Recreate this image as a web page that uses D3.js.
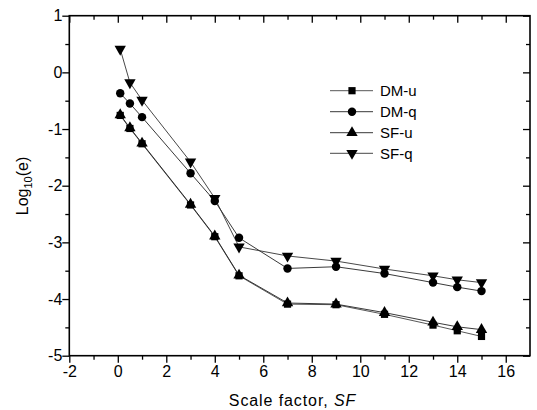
<!DOCTYPE html>
<html><head><meta charset="utf-8">
<script src="https://cdn.jsdelivr.net/npm/d3@7"></script>
<style>body{margin:0;background:#fff}text{font-family:"Liberation Sans",Arial,sans-serif}</style>
</head><body><svg id="c" width="537" height="410"></svg>
<script>
const sf = [0.1, 0.5, 1, 3, 4, 5, 7, 9, 11, 13, 14, 15];
const seriesNames = ["DM-u", "DM-q", "SF-u", "SF-q"];
const dmU = [-0.76, -0.99, -1.26, -2.34, -2.90, -3.59, -4.09, -4.10, -4.27, -4.46, -4.56, -4.66];
const dmQ = [-0.37, -0.55, -0.79, -1.78, -2.27, -2.92, -3.46, -3.43, -3.55, -3.71, -3.79, -3.86];
const sfU = [-0.75, -0.98, -1.25, -2.33, -2.89, -3.58, -4.07, -4.09, -4.24, -4.41, -4.49, -4.54];
const sfQ = [0.41, -0.18, -0.49, -1.58, -2.22, -3.08, -3.24, -3.33, -3.47, -3.59, -3.66, -3.71];
const xTicks = [-2, 0, 2, 4, 6, 8, 10, 12, 14, 16];
const yTicks = [-5, -4, -3, -2, -1, 0, 1];

const svg = d3.select("#c");
const L = 69.3, R = 530, T = 15.7, B = 355.7;
const x = d3.scaleLinear().domain([-2, 17]).range([L, R]);
const y = d3.scaleLinear().domain([-5, 1]).range([B, T]);

const data = [dmU, dmQ, sfU, sfQ];
const symbols = [d3.symbolSquare, d3.symbolCircle, d3.symbolTriangle, d3.symbolTriangle];
const symSize = [52, 56, 56, 56];
const rot = [0, 0, 0, 180];
const lineColor = ["#444", "#222", "#222", "#333"];

const fmt = d => String(d);
const fs = 16;
const gB = svg.append("g").attr("transform", `translate(0,${B})`)
  .call(d3.axisBottom(x).tickValues(xTicks).tickSize(7).tickFormat(fmt));
const gBm = svg.append("g").attr("transform", `translate(0,${B})`)
  .call(d3.axisBottom(x).tickValues(d3.range(-1, 17, 2)).tickSize(4).tickFormat(""));
const gT = svg.append("g").attr("transform", `translate(0,${T})`)
  .call(d3.axisBottom(x).tickValues(xTicks).tickSize(7).tickFormat(""));
const gTm = svg.append("g").attr("transform", `translate(0,${T})`)
  .call(d3.axisBottom(x).tickValues(d3.range(-1, 17, 2)).tickSize(4).tickFormat(""));
const gL = svg.append("g").attr("transform", `translate(${L},0)`)
  .call(d3.axisLeft(y).tickValues(yTicks).tickSize(7).tickFormat(fmt));
const gLm = svg.append("g").attr("transform", `translate(${L},0)`)
  .call(d3.axisLeft(y).tickValues(d3.range(-4.5, 1, 1)).tickSize(4).tickFormat(""));
const gR = svg.append("g").attr("transform", `translate(${R},0)`)
  .call(d3.axisLeft(y).tickValues(yTicks).tickSize(7).tickFormat(""));
const gRm = svg.append("g").attr("transform", `translate(${R},0)`)
  .call(d3.axisLeft(y).tickValues(d3.range(-4.5, 1, 1)).tickSize(4).tickFormat(""));
[gB, gBm, gT, gTm, gL, gLm, gR, gRm].forEach(g => {
  g.select(".domain").remove();
  g.selectAll("line").attr("stroke", "#000").attr("stroke-width", 1.3);
  g.selectAll("text").attr("font-size", fs).attr("fill", "#000")
    .style("font-family", '"Liberation Sans", Arial, sans-serif');
});
gB.selectAll("text").attr("dy", "0.9em").attr("y", 7);
gL.selectAll("text").attr("x", -7);
svg.append("rect").attr("x", L).attr("y", T).attr("width", R - L).attr("height", B - T)
  .attr("fill", "none").attr("stroke", "#000").attr("stroke-width", 1.6);

const line = d3.line().x((d, i) => x(sf[i])).y(d => y(d));
data.forEach((s, k) => {
  svg.append("path").datum(s).attr("d", line).attr("fill", "none")
    .attr("stroke", lineColor[k]).attr("stroke-width", 0.9);
});
data.forEach((s, k) => {
  svg.append("g").selectAll("path").data(s).join("path")
    .attr("d", d3.symbol().type(symbols[k]).size(symSize[k]))
    .attr("transform", (d, i) => `translate(${x(sf[i])},${y(d)}) rotate(${rot[k]})`)
    .attr("fill", "#000");
});

const legY = [90.7, 111.7, 132.7, 153.3];
seriesNames.forEach((n, k) => {
  const g = svg.append("g");
  g.append("line").attr("x1", 330).attr("x2", 373).attr("y1", legY[k]).attr("y2", legY[k])
    .attr("stroke", lineColor[k]).attr("stroke-width", 0.9);
  g.append("path").attr("d", d3.symbol().type(symbols[k]).size(symSize[k]))
    .attr("transform", `translate(352,${legY[k]}) rotate(${rot[k]})`).attr("fill", "#000");
  g.append("text").attr("x", 380).attr("y", legY[k]).attr("dy", "0.35em")
    .attr("font-size", 15).text(n);
});

const xt = svg.append("text").attr("x", 292.5).attr("y", 406).attr("text-anchor", "middle")
  .attr("font-size", 16).attr("letter-spacing", 0.9);
xt.append("tspan").text("Scale factor, ");
xt.append("tspan").attr("font-style", "italic").text("SF");
const yt = svg.append("text").attr("transform", "translate(28,186) rotate(-90)")
  .attr("text-anchor", "middle").attr("font-size", 16);
yt.append("tspan").text("Log");
yt.append("tspan").attr("font-size", 11).attr("dy", 4).text("10");
yt.append("tspan").attr("dy", -4).text("(e)");
</script></body></html>
